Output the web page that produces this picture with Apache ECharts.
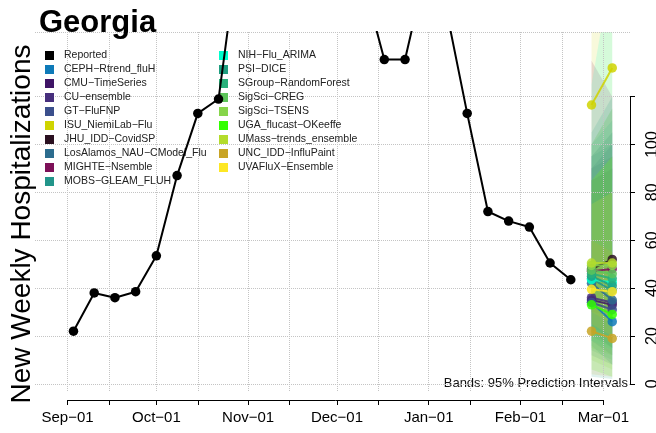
<!DOCTYPE html>
<html>
<head>
<meta charset="utf-8">
<script src="https://cdn.jsdelivr.net/npm/echarts@6/dist/echarts.min.js"></script>
<style>
  html, body { margin: 0; padding: 0; background: #fff; }
  #chart { width: 656px; height: 433px; }
</style>
</head>
<body>
<div id="chart"></div>
<script>
// Reported weekly flu hospitalizations (Georgia)
const reportedDates = ['2022-09-03', '2022-09-10', '2022-09-17', '2022-09-24', '2022-10-01', '2022-10-08',
  '2022-10-15', '2022-10-22', '2022-10-29', '2022-11-05', '2022-11-12', '2022-11-19', '2022-11-26',
  '2022-12-03', '2022-12-10', '2022-12-17', '2022-12-24', '2022-12-31', '2023-01-07', '2023-01-14',
  '2023-01-21', '2023-01-28', '2023-02-04', '2023-02-11', '2023-02-18'];
const reportedValues = [22, 38, 36, 38.5, 53.5, 87, 113, 119, 184, 215, 230, 215, 205,
  190, 168, 135.5, 135.5, 173, 156, 113, 72, 68, 65.5, 50.5, 43.5];

// Forecasts: two horizons per model
const forecastDates = ['2023-02-25', '2023-03-04'];
const models = ['CEPH-Rtrend_fluH', 'CMU-TimeSeries', 'CU-ensemble', 'GT-FluFNP', 'ISU_NiemiLab-Flu',
  'JHU_IDD-CovidSP', 'LosAlamos_NAU-CModel_Flu', 'MIGHTE-Nsemble', 'MOBS-GLEAM_FLUH', 'NIH-Flu_ARIMA',
  'PSI-DICE', 'SGroup-RandomForest', 'SigSci-CREG', 'SigSci-TSENS', 'UGA_flucast-OKeeffe',
  'UMass-trends_ensemble', 'UNC_IDD-InfluPaint', 'UVAFluX-Ensemble'];
const modelColors = ['#0e7ab8', '#3f1466', '#472f7d', '#3b4f8c', '#cfd400', '#2a1020', '#2c6c8e', '#7d1058',
  '#22958a', '#00ffcc', '#1f9e80', '#29b07a', '#5cc45a', '#86d54a', '#33ff00', '#b4dc2c', '#c8a425', '#fde725'];
const medianValues = [[34, 26], [35, 33], [36, 34], [34, 31], [116.5, 132], [48, 52], [42, 35], [47, 48],
  [44, 39], [43.5, 42.5], [45, 41], [46, 44], [47.5, 46], [49.5, 49.5], [33, 29], [50.5, 50.5], [22, 19], [39.5, 38.5]];
const lowerValues = [[16, 8], [22, 15], [24, 18], [18, 12], [95, 105], [30, 28], [12, 8], [25, 20],
  [20, 15], [18, 14], [3, 2], [14, 10], [15, 12], [10, 6], [6, 3], [30, 25], [4, 3], [25, 20]];
const upperValues = [[85, 90], [90, 95], [85, 90], [90, 100], [155, 175], [95, 105], [95, 100], [135, 120],
  [100, 110], [125, 175], [105, 120], [100, 115], [95, 105], [100, 115], [85, 95], [85, 95], [60, 55], [75, 80]];

// Axes
const xTickDates = ['2022-09-01', '2022-09-15', '2022-10-01', '2022-10-15', '2022-11-01', '2022-11-15',
  '2022-12-01', '2022-12-15', '2023-01-01', '2023-01-15', '2023-02-01', '2023-02-15', '2023-03-01'];
const xLabelDates = ['2022-09-01', '2022-10-01', '2022-11-01', '2022-12-01', '2023-01-01', '2023-02-01', '2023-03-01'];
const yTicks = [0, 20, 40, 60, 80, 100, 120];
const monthNames = ['Jan', 'Feb', 'Mar', 'Apr', 'May', 'Jun', 'Jul', 'Aug', 'Sep', 'Oct', 'Nov', 'Dec'];

const X_MIN = '2022-08-21', X_MAX = '2023-03-10';
const Y_MIN = -3.4, Y_MAX = 147;
const PLOT = { left: 35, top: 32, width: 595, height: 360 };
const FONT = 'Liberation Sans';

const t = s => Date.parse(s + 'T00:00:00Z');
const minus = s => s.replace(/-/g, '\u2212');

// x axis line only spans Sep-01 .. Mar-01, y axis only 0 .. 120
const xSpan = t(X_MAX) - t(X_MIN);
const axisLeft = PLOT.left + (t(xTickDates[0]) - t(X_MIN)) / xSpan * PLOT.width;
const axisWidth = (t(xTickDates[xTickDates.length - 1]) - t(xTickDates[0])) / xSpan * PLOT.width;
const ySpan = Y_MAX - Y_MIN;
const yAxisTop = PLOT.top + (Y_MAX - yTicks[yTicks.length - 1]) / ySpan * PLOT.height;
const yAxisHeight = (yTicks[yTicks.length - 1] - yTicks[0]) / ySpan * PLOT.height;

const gridLine = { show: true, lineStyle: { type: 'dotted', color: '#c4c4c4', width: 1 } };

const series = [];

// 95% prediction bands, one polygon per model
models.forEach((m, i) => {
  series.push({
    type: 'custom', name: 'band_' + m, silent: true, z: 1,
    xAxisIndex: 0, yAxisIndex: 0,
    data: forecastDates.map((d, k) => [t(d), lowerValues[i][k], upperValues[i][k]]),
    encode: { x: 0, y: [1, 2] },
    renderItem: (params, api) => {
      if (params.dataIndex !== 0) return null;
      const top = forecastDates.map((d, k) => api.coord([t(d), upperValues[i][k]]));
      const bottom = forecastDates.map((d, k) => api.coord([t(d), lowerValues[i][k]])).reverse();
      const cs = params.coordSys;
      return {
        type: 'polygon',
        shape: { points: top.concat(bottom) },
        style: { fill: modelColors[i], opacity: 0.14 },
        clipPath: { type: 'rect', shape: { x: cs.x, y: cs.y, width: cs.width, height: cs.height } }
      };
    }
  });
});

series.push({
  type: 'line', name: 'Reported', xAxisIndex: 0, yAxisIndex: 0, z: 4,
  symbol: 'circle', symbolSize: 9.5,
  itemStyle: { color: '#000' },
  lineStyle: { color: '#000', width: 2 },
  data: reportedDates.map((d, k) => [t(d), reportedValues[k]])
});

models.forEach((m, i) => {
  series.push({
    type: 'line', name: m, xAxisIndex: 0, yAxisIndex: 0, z: 5,
    symbol: 'circle', symbolSize: 9.5,
    itemStyle: { color: modelColors[i], opacity: 0.85 },
    lineStyle: { color: modelColors[i], width: 2, opacity: 0.85 },
    data: forecastDates.map((d, k) => [t(d), medianValues[i][k]])
  });
});

const legendNames = ['Reported'].concat(models);
const legendBase = {
  orient: 'vertical', top: 45, icon: 'rect', itemWidth: 9, itemHeight: 9, itemGap: 3,
  formatter: minus,
  itemStyle: { opacity: 1 },
  textStyle: { fontFamily: FONT, fontSize: 10.5, lineHeight: 10, color: '#222', padding: [0, 0, 0, 5] }
};

const option = {
  animation: false,
  title: {
    text: 'Georgia', left: 34, top: 3,
    textStyle: { fontFamily: FONT, fontSize: 31, fontWeight: 'bold', color: '#000' }
  },
  legend: [
    Object.assign({ left: 40, data: legendNames.slice(0, 10) }, legendBase),
    Object.assign({ left: 214, data: legendNames.slice(10) }, legendBase)
  ],
  grid: [
    { left: PLOT.left, top: PLOT.top, width: PLOT.width, height: PLOT.height },
    { left: axisLeft, top: 399, width: axisWidth, height: 1 },
    { left: PLOT.left + PLOT.width, top: yAxisTop, width: 5, height: yAxisHeight }
  ],
  xAxis: [
    {
      type: 'value', gridIndex: 0, min: t(X_MIN), max: t(X_MAX), z: 3,
      axisLine: { show: false }, axisLabel: { show: false },
      axisTick: { show: false, customValues: xTickDates.map(t) },
      splitLine: gridLine
    },
    {
      type: 'value', gridIndex: 1, position: 'bottom',
      min: t(xTickDates[0]), max: t(xTickDates[xTickDates.length - 1]),
      axisLine: { show: true, lineStyle: { color: '#000', width: 1 } },
      axisTick: { show: true, length: 5, customValues: xTickDates.map(t), lineStyle: { color: '#000' } },
      axisLabel: {
        customValues: xLabelDates.map(t), margin: 10, fontFamily: FONT, fontSize: 15, color: '#000',
        formatter: v => monthNames[new Date(v).getUTCMonth()] + '\u221201'
      },
      splitLine: { show: false }
    },
    { type: 'value', gridIndex: 2, show: false }
  ],
  yAxis: [
    {
      type: 'value', gridIndex: 0, min: Y_MIN, max: Y_MAX, z: 3,
      axisLine: { show: false }, axisLabel: { show: false },
      axisTick: { show: false, customValues: yTicks.concat([Y_MAX]) },
      splitLine: gridLine
    },
    { type: 'value', gridIndex: 1, show: false },
    {
      type: 'value', gridIndex: 2, position: 'right', min: 0, max: 120, interval: 20,
      axisLine: { show: true, lineStyle: { color: '#000', width: 1 } },
      axisTick: { show: true, inside: false, length: 5, lineStyle: { color: '#000' } },
      axisLabel: {
        rotate: 90, margin: 13, fontFamily: FONT, fontSize: 16, color: '#000',
        formatter: v => (v === 120 ? '' : String(v))
      },
      splitLine: { show: false }
    }
  ],
  graphic: [
    {
      type: 'text', x: 22, y: 224, rotation: Math.PI / 2,
      style: { text: 'New Weekly Hospitalizations', fontFamily: FONT, fontSize: 28, fill: '#000', textAlign: 'center', textVerticalAlign: 'middle' }
    },
    {
      type: 'text', x: 628, y: 383,
      style: { text: 'Bands: 95% Prediction Intervals', fontFamily: FONT, fontSize: 13, fill: '#111', textAlign: 'right', textVerticalAlign: 'middle' }
    }
  ],
  series: series
};

const chart = echarts.init(document.getElementById('chart'));
chart.setOption(option);
</script>
</body>
</html>
